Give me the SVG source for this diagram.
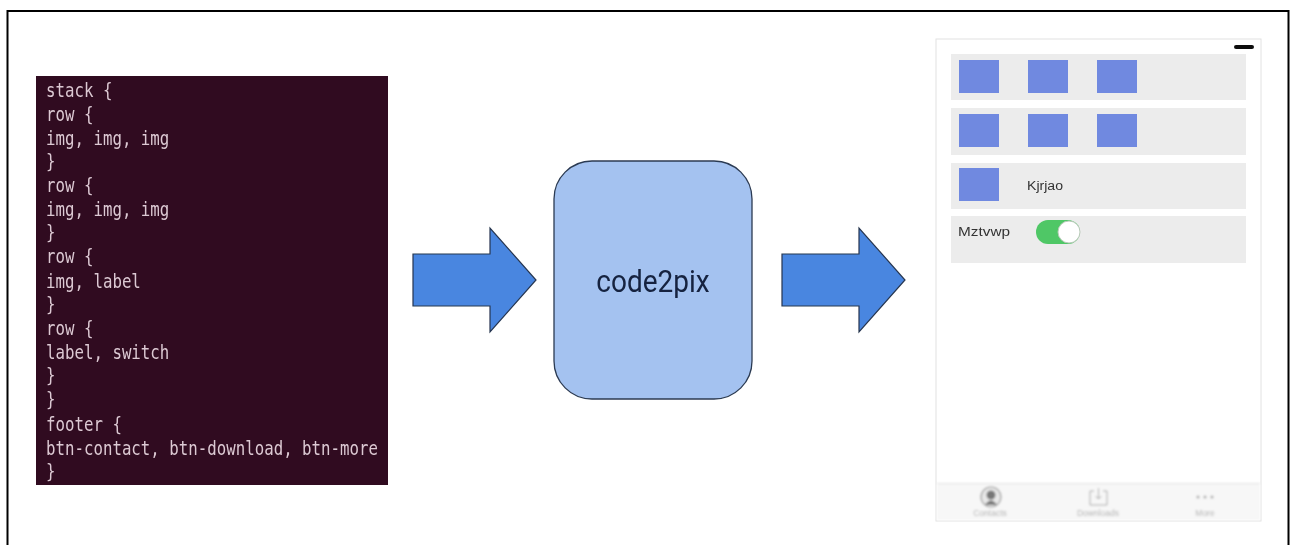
<svg xmlns="http://www.w3.org/2000/svg" width="1294" height="545" viewBox="0 0 1294 545">
<style>
.code{font-family:"DejaVu Sans Mono","Liberation Mono",monospace;font-size:20px;fill:#dcc9d3}
.arrow{fill:#4a86e0;stroke:#26364f;stroke-width:1.2}
.row{fill:#ececec}
.sq{fill:#6f89e0}
.lab{font-family:"Liberation Sans",Arial,sans-serif;font-size:12.5px;fill:#333}
.tab{font-family:"Liberation Sans",Arial,sans-serif;font-size:8.5px;fill:#b4b4b4;text-anchor:middle}
</style>
<defs>
<filter id="soft" x="-5%" y="-5%" width="110%" height="110%"><feGaussianBlur stdDeviation="0.5"/></filter>
<filter id="softer" x="-5%" y="-5%" width="110%" height="110%"><feGaussianBlur stdDeviation="0.8"/></filter>
</defs>
<rect width="1294" height="545" fill="#fff"/>
<path id="frame" d="M7.5 545V11H1288.500V545" fill="none" stroke="#000" stroke-width="2"/>
<g id="code-panel">
<rect x="36" y="76" width="352" height="409" fill="#300b20"/>
<g filter="url(#soft)" transform="translate(46 0) scale(0.788 1)">
<text class="code" y="97">stack {</text>
<text class="code" y="121">row {</text>
<text class="code" y="145">img, img, img</text>
<text class="code" y="168">}</text>
<text class="code" y="192">row {</text>
<text class="code" y="216">img, img, img</text>
<text class="code" y="239">}</text>
<text class="code" y="263">row {</text>
<text class="code" y="288">img, label</text>
<text class="code" y="311">}</text>
<text class="code" y="335">row {</text>
<text class="code" y="359">label, switch</text>
<text class="code" y="382">}</text>
<text class="code" y="406">}</text>
<text class="code" y="431">footer {</text>
<text class="code" y="455">btn-contact, btn-download, btn-more</text>
<text class="code" y="478">}</text>
</g>
</g>
<g id="connectors" filter="url(#soft)">
<path class="arrow" d="M413 254H490V228L536 280L490 332V306H413Z"/>
<path class="arrow" d="M782 254H859V228L905 280L859 332V306H782Z"/>
</g>
<g id="code2pix" filter="url(#soft)">
<rect x="554" y="161" width="198" height="238" rx="38" fill="#a4c2f0" stroke="#2b3a52" stroke-width="1.300"/>
<text x="653" y="292" transform="translate(0 -31) scale(1 1.106)" text-anchor="middle" font-family="Roboto,'Liberation Sans',sans-serif" font-size="28" fill="#14233f">code2pix</text>
</g>
<g id="phone" filter="url(#soft)">
<rect x="936" y="39" width="325" height="482" fill="#fff" stroke="#e2e2e2"/>
<rect x="1234" y="45" width="20" height="4" rx="2" fill="#111"/>
<rect class="row" x="951" y="54" width="295" height="46"/>
<rect class="row" x="951" y="108" width="295" height="47"/>
<rect class="row" x="951" y="163" width="295" height="46"/>
<rect class="row" x="951" y="216" width="295" height="47"/>
<rect class="sq" x="959" y="60" width="40" height="33"/>
<rect class="sq" x="1028" y="60" width="40" height="33"/>
<rect class="sq" x="1097" y="60" width="40" height="33"/>
<rect class="sq" x="959" y="114" width="40" height="33"/>
<rect class="sq" x="1028" y="114" width="40" height="33"/>
<rect class="sq" x="1097" y="114" width="40" height="33"/>
<rect class="sq" x="959" y="168" width="40" height="33"/>
<text class="lab" x="1027" y="190" textLength="36" lengthAdjust="spacingAndGlyphs">Kjrjao</text>
<text class="lab" x="958" y="236" textLength="52" lengthAdjust="spacingAndGlyphs">Mztvwp</text>
<rect x="1036" y="220" width="44" height="24" rx="12" fill="#4fc766"/>
<circle cx="1069" cy="232" r="11" fill="#fff" stroke="#b9c9b9"/>
</g>
<g id="tabbar" filter="url(#softer)">
<rect x="937" y="483" width="323" height="37" fill="#f7f7f7"/>
<line x1="937" y1="483.500" x2="1260" y2="483.500" stroke="#e2e2e2"/>
<circle cx="991" cy="497" r="10" fill="#e8e8e8" stroke="#999" stroke-width="1.200"/>
<circle cx="991" cy="495" r="4.500" fill="#777"/>
<path d="M985 505Q991 496 997 505Z" fill="#777"/>
<path d="M1094 491H1090V505H1107V491H1103M1098.500 488V499M1095.500 496L1098.500 499L1101.500 496" fill="none" stroke="#aaa"/>
<circle cx="1198" cy="497" r="1.500" fill="#aaa"/>
<circle cx="1205" cy="497" r="1.500" fill="#aaa"/>
<circle cx="1212" cy="497" r="1.500" fill="#aaa"/>
<text class="tab" x="990" y="516">Contacts</text>
<text class="tab" x="1098" y="516">Downloads</text>
<text class="tab" x="1205" y="516">More</text>
</g>
</svg>
